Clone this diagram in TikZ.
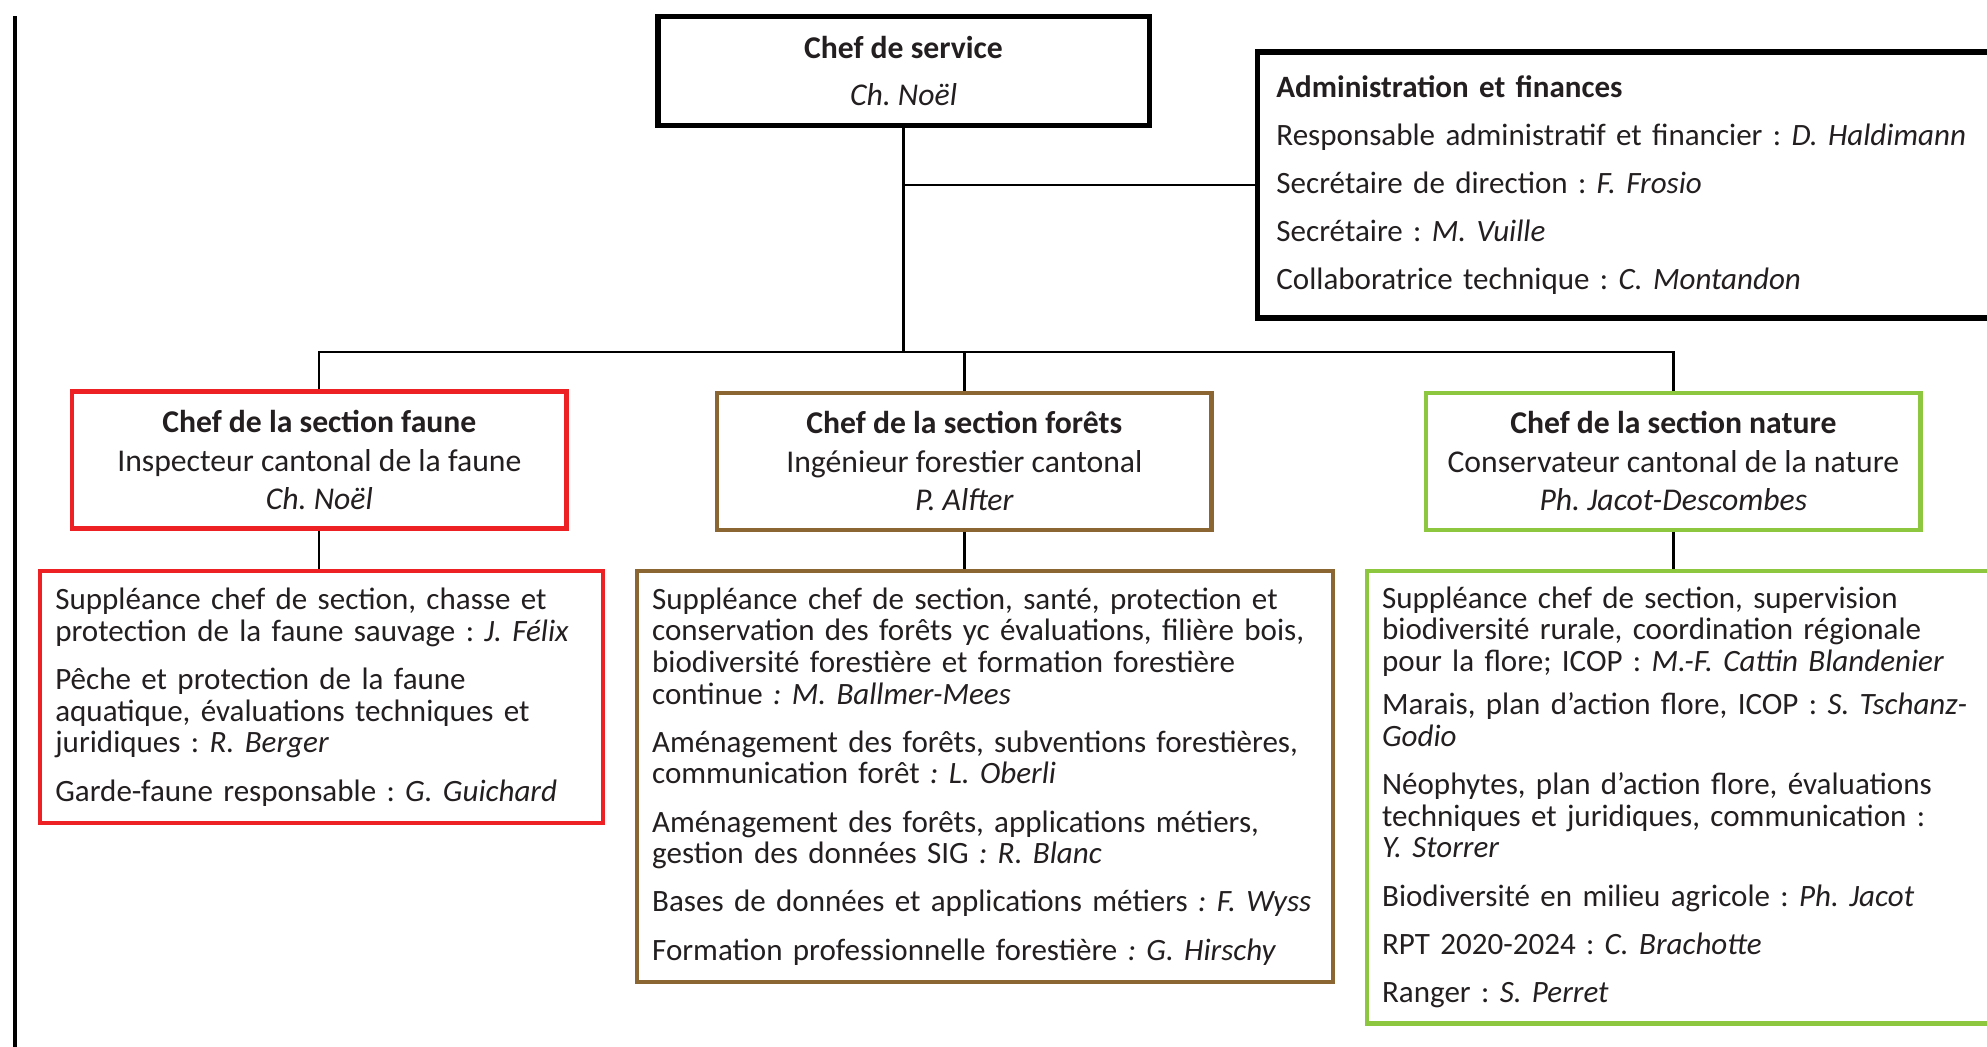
\documentclass[tikz,border=0pt]{standalone}
\usepackage{fontspec}
\setmainfont{Carlito}
\frenchspacing
\usetikzlibrary{positioning}
\begin{document}
\begin{tikzpicture}[x=1pt,y=1pt,
  chefbox/.style={draw=black,line width=4.5pt,text=txtColor,inner sep=0pt},
  headbox/.style={draw=#1,line width=3.3pt,minimum width=390pt,minimum height=108pt,align=center,text=txtColor,inner sep=0pt,font=\fontsize{25}{30.5}\selectfont},
  listbox/.style={draw=#1,line width=3.3pt,anchor=north west,align=left,text=txtColor,inner xsep=12pt,inner ysep=0pt,font=\fontsize{24.5}{25}\selectfont},
  link/.style={draw=black,line width=1.8pt}]
\definecolor{fillColor}{RGB}{255,255,255}
\definecolor{txtColor}{RGB}{35,31,32}
\definecolor{fauneColor}{RGB}{237,32,36}
\definecolor{foretsColor}{RGB}{139,101,50}
\definecolor{natureColor}{RGB}{141,198,63}
\path[use as bounding box,fill=fillColor] (0,0) rectangle (1568,826);

\draw[line width=3.5pt] (12,813) -- (12,-10);

\node[chefbox,minimum width=388pt,minimum height=86pt,align=center,font=\fontsize{25}{37}\selectfont] (chef) at (713,770) {\textbf{Chef de service}\\ \textit{Ch. Noël}};

\node[chefbox,anchor=west,minimum width=610pt,minimum height=210pt,text width=580pt,inner xsep=15pt,align=left,font=\fontsize{24.5}{38}\selectfont] (admin) at (990,680) {\textbf{Administration et finances}\\
Responsable administratif et financier : \textit{D. Haldimann}\\
Secrétaire de direction : \textit{F. Frosio}\\
Secrétaire : \textit{M. Vuille}\\
Collaboratrice technique : \textit{C. Montandon}};

\node[headbox=fauneColor] (faunehead) at (252,463) {\textbf{Chef de la section faune}\\ Inspecteur cantonal de la faune\\ \textit{Ch. Noël}};
\node[headbox=foretsColor] (foretshead) at (761,462) {\textbf{Chef de la section forêts}\\ Ingénieur forestier cantonal\\ \textit{P. Alfter}};
\node[headbox=natureColor] (naturehead) at (1320.5,462) {\textbf{Chef de la section nature}\\ Conservateur cantonal de la nature\\ \textit{Ph. Jacot-Descombes}};

\node[listbox=fauneColor,text width=420pt,minimum height=199pt] (faunelist) at (30,377) {Suppléance chef de section, chasse et\\
protection de la faune sauvage : \textit{J. Félix}\\[13pt]
Pêche et protection de la faune\\
aquatique, évaluations techniques et\\
juridiques : \textit{R. Berger}\\[13pt]
Garde-faune responsable : \textit{G. Guichard}};

\node[listbox=foretsColor,text width=525pt,minimum height=324pt] (foretslist) at (501,377) {Suppléance chef de section, santé, protection et\\
conservation des forêts yc évaluations, filière bois,\\
biodiversité forestière et formation forestière\\
continue \textit{: M. Ballmer-Mees}\\[13pt]
Aménagement des forêts, subventions forestières,\\
communication forêt \textit{: L. Oberli}\\[13pt]
Aménagement des forêts, applications métiers,\\
gestion des données SIG \textit{: R. Blanc}\\[13pt]
Bases de données et applications métiers \textit{: F. Wyss}\\[13pt]
Formation professionnelle forestière \textit{: G. Hirschy}};

\node[listbox=natureColor,text width=499pt,minimum height=357pt] (naturelist) at (1077,377) {Suppléance chef de section, supervision\\
biodiversité rurale, coordination régionale\\
pour la flore; ICOP : \textit{M.-F. Cattin Blandenier}\\[9pt]
Marais, plan d’action flore, ICOP : \textit{S. Tschanz-}\\
\textit{Godio}\\[13pt]
Néophytes, plan d’action flore, évaluations\\
techniques et juridiques, communication :\\
\textit{Y. Storrer}\\[13pt]
Biodiversité en milieu agricole : \textit{Ph. Jacot}\\[13pt]
RPT 2020-2024 : \textit{C. Brachotte}\\[13pt]
Ranger : \textit{S. Perret}};

\coordinate (bus) at (713,548);
\path[link] (chef.south) -- (bus);
\path[link] (chef.south |- admin.west) -- (admin.west);
\path[link] (faunehead.north) |- (bus) -| (naturehead.north);
\path[link] (foretshead.north) -- (foretshead.north |- bus);
\path[link] (faunehead.south) -- (faunehead.south |- faunelist.north);
\path[link] (foretshead.south) -- (foretshead.south |- foretslist.north);
\path[link] (naturehead.south) -- (naturehead.south |- naturelist.north);
\end{tikzpicture}
\end{document}
